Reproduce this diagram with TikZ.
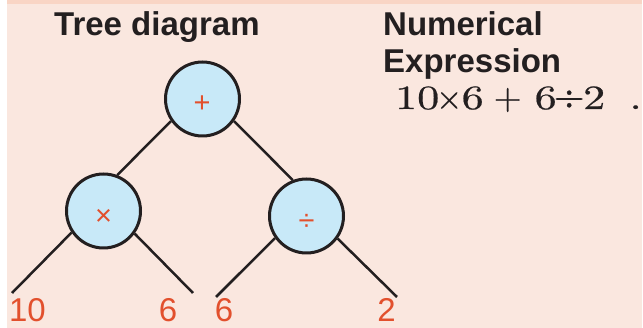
\documentclass[tikz,border=0pt]{standalone}
\usepackage{fontspec}
\usepackage{graphicx}
\newfontfamily\headfont{Liberation Sans}
\newfontfamily\exprfont{lmroman10-regular}[Extension=.otf, FakeStretch=1.3, FakeBold=0.6]
\newfontfamily\exprop{lmroman10-regular}[Extension=.otf, FakeBold=0.8]
\definecolor{bgpeach}{HTML}{FAE7DF}
\definecolor{toppeach}{HTML}{F9D5C5}
\definecolor{circfill}{HTML}{C8E9F8}
\definecolor{opred}{HTML}{E2502D}
\definecolor{ink}{HTML}{231F20}
\newcommand\putc[2]{\makebox[0pt][l]{\hspace*{#1}\makebox[0pt][c]{#2}}}
\begin{document}
\begin{tikzpicture}[x=1pt,y=-1pt,
  title/.style={inner sep=0pt,anchor=base west,text=ink,font=\headfont\bfseries\fontsize{33}{38}\selectfont},
  opnode/.style={circle,draw=ink,line width=3pt,fill=circfill,minimum size=74pt,inner sep=0pt},
  opsym/.style={inner sep=0pt,text=opred,font=\headfont\fontsize{29}{32}\selectfont},
  leaf/.style={inner sep=0pt,anchor=base,text=opred,font=\headfont\fontsize{33}{38}\selectfont},
  edge/.style={draw=ink,line width=2.5pt},
  expr/.style={inner sep=0pt,anchor=base west,text=ink,font=\exprfont\fontsize{34}{40}\selectfont}]
\useasboundingbox (0,0) rectangle (643,328);
\fill[bgpeach] (0,0) rectangle (643,328);
\fill[toppeach] (7,0) rectangle (643,4);
\fill[white] (0,0) rectangle (7,328);
\fill[white] (642,0) rectangle (643,328);
% titles
\node[title] (ttree) at (54,36) {Tree diagram};
\node[title] (tnum) at (383,36) {Numerical};
\node[title] (texp) at (383,73) {Expression};
\node[expr] (expr) at (393,109) {\putc{23.5pt}{10}\putc{55.5pt}{\exprop\fontsize{34}{40}\selectfont ×}\putc{79pt}{6}\putc{114pt}{\exprop\fontsize{36}{40}\selectfont +}\putc{152pt}{6}\putc{175.5pt}{\exprop\fontsize{40}{40}\selectfont ÷}\putc{200.5pt}{2}\putc{242pt}{.}};
% free ends of the leaf lines
\coordinate (e10) at (12,293);
\coordinate (e6a) at (193,293);
\coordinate (e6b) at (216,297);
\coordinate (e2) at (397,297);
% operator nodes
\node[opnode] (plus) at (202.5,99) {};
\node[opnode] (times) at (103.5,211) {};
\node[opnode] (div) at (306.5,216) {};
\draw[edge] (plus.215) -- (times.69);
\draw[edge] (plus.325) -- (div.111);
\draw[edge] (times.214) -- (e10);
\draw[edge] (times.324) -- (e6a);
\draw[edge] (div.215) -- (e6b);
\draw[edge] (div.324) -- (e2);
\node[opsym] (plussym) at (202,104) {+};
\node[opsym] (timessym) at (103.5,217) {×};
\node[opsym] (divsym) at (306.5,222) {÷};
% leaves
\node[leaf] (n10) at (27.5,322) {10};
\node[leaf] (n6a) at (168,322) {6};
\node[leaf] (n6b) at (224,322) {6};
\node[leaf] (n2) at (386.5,322) {2};
\end{tikzpicture}
\end{document}
